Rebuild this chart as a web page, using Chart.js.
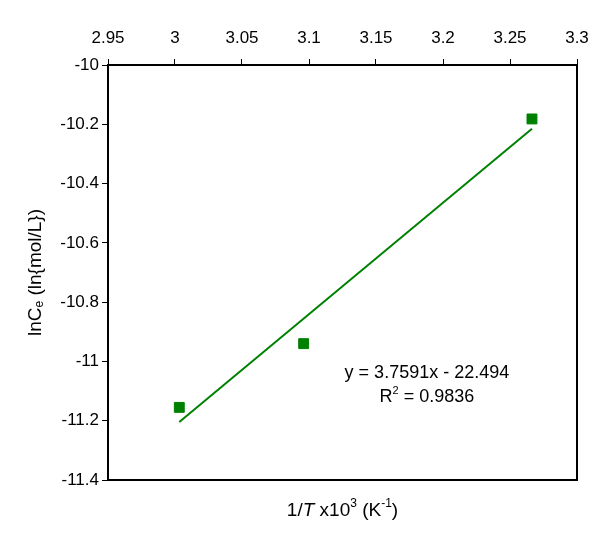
<!DOCTYPE html>
<html>
<head>
<meta charset="utf-8">
<script src="https://cdn.jsdelivr.net/npm/chart.js@4.4.0/dist/chart.umd.min.js"></script>
<style>
  html, body { margin: 0; padding: 0; background: #fff; }
  #wrap { width: 600px; height: 544px; }
</style>
</head>
<body>
<div id="wrap"><canvas id="myChart" width="600" height="544"></canvas></div>
<script>
// data
var invT = [3.0032, 3.096, 3.2664];      // 1/T x10^3
var lnCe = [-11.155, -10.94, -10.182];   // lnCe
var fitSlope = 3.7591;
var fitIntercept = -22.494;
var fitR2 = 0.9836;
var xTickMin = 2.95, xTickMax = 3.3, xStep = 0.05;
var yTickMin = -11.4, yTickMax = -10, yStep = 0.2;

var FONT = 'Arial, "Liberation Sans", sans-serif';
var green = '#008000';

var points = invT.map(function (x, i) { return { x: x, y: lnCe[i] }; });
var xa = invT[0], xb = invT[invT.length - 1];
var fitLine = [
  { x: xa, y: fitSlope * xa + fitIntercept },
  { x: xb, y: fitSlope * xb + fitIntercept }
];

// draws a row of text pieces (for sub/superscripts and italics)
function drawRuns(ctx, runs, x, y) {
  var total = 0;
  runs.forEach(function (r) { ctx.font = r.font; r.w = ctx.measureText(r.t).width; total += r.w; });
  var cx = x - total / 2;
  runs.forEach(function (r) {
    ctx.font = r.font;
    ctx.fillText(r.t, cx, y + (r.dy || 0));
    cx += r.w;
  });
}

var extras = {
  id: 'extras',
  afterDraw: function (chart) {
    var ctx = chart.ctx, a = chart.chartArea;
    var sx = chart.scales.x, sy = chart.scales.y;
    ctx.save();
    // frame
    ctx.strokeStyle = '#000';
    ctx.lineWidth = 2;
    ctx.strokeRect(a.left, a.top, a.right - a.left, a.bottom - a.top);

    ctx.fillStyle = '#000';
    ctx.textBaseline = 'middle';
    ctx.textAlign = 'left';
    var f = '19px ' + FONT, fi = 'italic 19px ' + FONT, fs = '12px ' + FONT;

    // x title
    drawRuns(ctx, [
      { t: '1/', font: f }, { t: 'T', font: fi }, { t: ' x10', font: f },
      { t: '3', font: fs, dy: -7 }, { t: ' (K', font: f }, { t: '-1', font: fs, dy: -7 },
      { t: ')', font: f }
    ], (a.left + a.right) / 2, 511);

    // y title
    ctx.save();
    ctx.translate(36, (a.top + a.bottom) / 2);
    ctx.rotate(-Math.PI / 2);
    drawRuns(ctx, [
      { t: 'lnC', font: f }, { t: 'e', font: fs, dy: 4 }, { t: ' (ln{mol/L})', font: f }
    ], 0, 0);
    ctx.restore();

    // trendline label
    var tx = sx.getPixelForValue(3.188), ty = sy.getPixelForValue(-11.04);
    var f2 = '18px ' + FONT, fs2 = '11px ' + FONT;
    drawRuns(ctx, [{ t: 'y = ' + fitSlope + 'x - ' + Math.abs(fitIntercept), font: f2 }], tx, ty);
    drawRuns(ctx, [
      { t: 'R', font: f2 }, { t: '2', font: fs2, dy: -6 }, { t: ' = ' + fitR2, font: f2 }
    ], tx, ty + 24);
    ctx.restore();
  }
};

const config = {
  type: 'scatter',
  data: {
    datasets: [
      {
        type: 'line',
        data: fitLine,
        borderColor: green,
        borderWidth: 2,
        pointRadius: 0,
        fill: false
      },
      {
        data: points,
        backgroundColor: green,
        borderColor: green,
        pointStyle: 'rect',
        pointRadius: 7,
        pointHoverRadius: 7
      }
    ]
  },
  options: {
    responsive: false,
    animation: false,
    layout: { padding: { left: 0, right: 23, top: 0, bottom: 64 } },
    plugins: {
      legend: { display: false },
      tooltip: { enabled: false }
    },
    scales: {
      x: {
        type: 'linear',
        position: 'top',
        min: xTickMin,
        max: xTickMax,
        afterFit: function (s) { s.height = 65; },
        ticks: {
          stepSize: xStep,
          color: '#000',
          padding: 10,
          maxRotation: 0,
          font: { family: FONT, size: 17 },
          callback: function (v) { return String(Number(v.toFixed(2))); }
        },
        grid: { drawOnChartArea: false, drawTicks: true, tickLength: 6, color: '#000', lineWidth: 1 },
        border: { display: true, color: '#000', width: 2 }
      },
      y: {
        type: 'linear',
        min: yTickMin,
        max: yTickMax,
        afterFit: function (s) { s.width = 108; },
        ticks: {
          stepSize: yStep,
          color: '#000',
          padding: 3,
          font: { family: FONT, size: 17 },
          callback: function (v) { return String(Number(v.toFixed(1))); }
        },
        grid: { drawOnChartArea: false, drawTicks: true, tickLength: 6, color: '#000', lineWidth: 1 },
        border: { display: true, color: '#000', width: 2 }
      }
    }
  },
  plugins: [extras]
};

const myChart = new Chart(document.getElementById('myChart'), config);
</script>
</body>
</html>
